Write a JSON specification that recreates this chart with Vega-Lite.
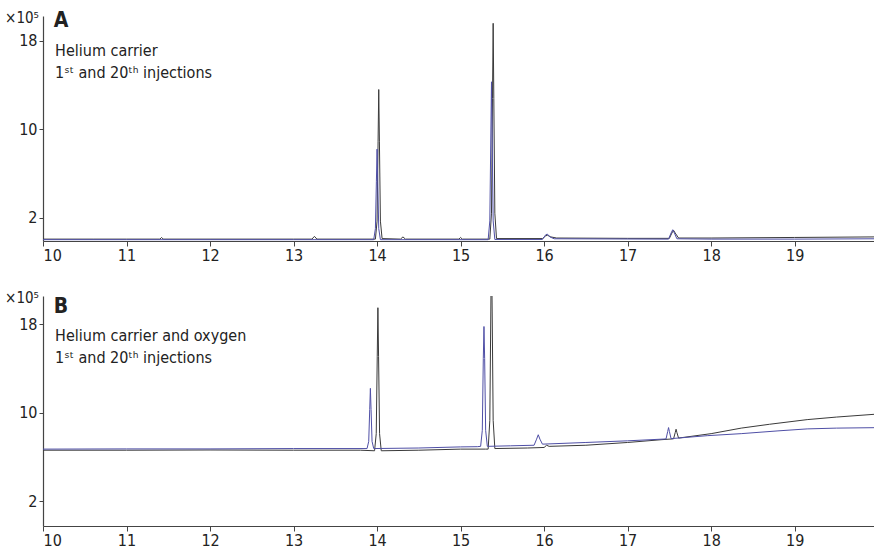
{
  "$schema": "https://vega.github.io/schema/vega-lite/v6.json",
  "padding": {"left": 5, "top": 9, "right": 0, "bottom": 4},
  "spacing": 28,
  "config": {
    "view": {"stroke": null},
    "font": "DejaVu Sans Condensed, Roboto, sans-serif",
    "axis": {
      "labelFont": "DejaVu Sans Condensed, Roboto, sans-serif",
      "labelFontSize": 16,
      "labelColor": "#222222",
      "domainColor": "#444444",
      "tickColor": "#444444",
      "domainWidth": 1.2,
      "grid": false,
      "title": null
    },
    "text": {"font": "DejaVu Sans Condensed, Roboto, sans-serif", "color": "#222222"}
  },
  "datasets": {
    "a": [
      {"t": 10.0, "v": 0.05, "inj": "1st"}, {"t": 10.6, "v": 0.05, "inj": "1st"}, {"t": 11.0, "v": 0.05, "inj": "1st"},
      {"t": 11.4, "v": 0.05, "inj": "1st"}, {"t": 11.42, "v": 0.2, "inj": "1st"}, {"t": 11.44, "v": 0.05, "inj": "1st"},
      {"t": 12.0, "v": 0.05, "inj": "1st"}, {"t": 13.0, "v": 0.05, "inj": "1st"},
      {"t": 13.22, "v": 0.05, "inj": "1st"}, {"t": 13.25, "v": 0.3, "inj": "1st"}, {"t": 13.28, "v": 0.05, "inj": "1st"},
      {"t": 13.98, "v": 0.05, "inj": "1st"}, {"t": 14.0, "v": 1.68, "inj": "1st"}, {"t": 14.012, "v": 8.86, "inj": "1st"},
      {"t": 14.02, "v": 13.6, "inj": "1st"}, {"t": 14.028, "v": 8.86, "inj": "1st"}, {"t": 14.04, "v": 1.68, "inj": "1st"},
      {"t": 14.06, "v": 0.1, "inj": "1st"},
      {"t": 14.28, "v": 0.05, "inj": "1st"}, {"t": 14.31, "v": 0.25, "inj": "1st"}, {"t": 14.34, "v": 0.05, "inj": "1st"},
      {"t": 14.98, "v": 0.05, "inj": "1st"}, {"t": 15.0, "v": 0.2, "inj": "1st"}, {"t": 15.02, "v": 0.05, "inj": "1st"},
      {"t": 15.35, "v": 0.05, "inj": "1st"}, {"t": 15.37, "v": 2.4, "inj": "1st"}, {"t": 15.382, "v": 12.8, "inj": "1st"},
      {"t": 15.39, "v": 19.6, "inj": "1st"}, {"t": 15.398, "v": 12.8, "inj": "1st"}, {"t": 15.41, "v": 2.4, "inj": "1st"},
      {"t": 15.43, "v": 0.1, "inj": "1st"},
      {"t": 15.98, "v": 0.1, "inj": "1st"}, {"t": 16.02, "v": 0.35, "inj": "1st"}, {"t": 16.04, "v": 0.4, "inj": "1st"},
      {"t": 16.08, "v": 0.25, "inj": "1st"}, {"t": 16.15, "v": 0.15, "inj": "1st"},
      {"t": 17.0, "v": 0.12, "inj": "1st"}, {"t": 17.5, "v": 0.12, "inj": "1st"}, {"t": 17.53, "v": 0.6, "inj": "1st"},
      {"t": 17.55, "v": 0.85, "inj": "1st"}, {"t": 17.57, "v": 0.6, "inj": "1st"}, {"t": 17.61, "v": 0.15, "inj": "1st"},
      {"t": 18.0, "v": 0.15, "inj": "1st"}, {"t": 19.0, "v": 0.2, "inj": "1st"}, {"t": 19.95, "v": 0.25, "inj": "1st"},

      {"t": 10.0, "v": 0.0, "inj": "20th"}, {"t": 11.0, "v": 0.0, "inj": "20th"}, {"t": 12.0, "v": 0.0, "inj": "20th"},
      {"t": 13.0, "v": 0.0, "inj": "20th"},
      {"t": 13.96, "v": 0.0, "inj": "20th"}, {"t": 13.98, "v": 1.0, "inj": "20th"}, {"t": 13.992, "v": 5.3, "inj": "20th"},
      {"t": 14.0, "v": 8.2, "inj": "20th"}, {"t": 14.008, "v": 5.3, "inj": "20th"}, {"t": 14.02, "v": 1.0, "inj": "20th"},
      {"t": 14.04, "v": 0.0, "inj": "20th"},
      {"t": 15.33, "v": 0.0, "inj": "20th"}, {"t": 15.35, "v": 1.7, "inj": "20th"}, {"t": 15.362, "v": 9.3, "inj": "20th"},
      {"t": 15.37, "v": 14.3, "inj": "20th"}, {"t": 15.378, "v": 9.3, "inj": "20th"}, {"t": 15.39, "v": 1.7, "inj": "20th"},
      {"t": 15.41, "v": 0.02, "inj": "20th"},
      {"t": 15.98, "v": 0.02, "inj": "20th"}, {"t": 16.02, "v": 0.45, "inj": "20th"}, {"t": 16.04, "v": 0.5, "inj": "20th"},
      {"t": 16.07, "v": 0.25, "inj": "20th"}, {"t": 16.12, "v": 0.08, "inj": "20th"},
      {"t": 17.49, "v": 0.05, "inj": "20th"}, {"t": 17.52, "v": 0.6, "inj": "20th"}, {"t": 17.54, "v": 0.9, "inj": "20th"},
      {"t": 17.56, "v": 0.6, "inj": "20th"}, {"t": 17.59, "v": 0.08, "inj": "20th"},
      {"t": 18.0, "v": 0.05, "inj": "20th"}, {"t": 19.0, "v": 0.05, "inj": "20th"}, {"t": 19.95, "v": 0.08, "inj": "20th"}
    ],
    "b": [
      {"t": 10.0, "v": 6.6, "inj": "1st"}, {"t": 11.0, "v": 6.6, "inj": "1st"}, {"t": 12.0, "v": 6.62, "inj": "1st"},
      {"t": 13.0, "v": 6.6, "inj": "1st"}, {"t": 13.8, "v": 6.6, "inj": "1st"},
      {"t": 13.97, "v": 6.55, "inj": "1st"}, {"t": 13.99, "v": 8.1, "inj": "1st"}, {"t": 14.002, "v": 15.1, "inj": "1st"},
      {"t": 14.01, "v": 19.5, "inj": "1st"}, {"t": 14.018, "v": 15.1, "inj": "1st"}, {"t": 14.03, "v": 8.1, "inj": "1st"},
      {"t": 14.05, "v": 6.55, "inj": "1st"},
      {"t": 14.5, "v": 6.6, "inj": "1st"}, {"t": 15.0, "v": 6.7, "inj": "1st"}, {"t": 15.3, "v": 6.7, "inj": "1st"},
      {"t": 15.33, "v": 6.7, "inj": "1st"}, {"t": 15.35, "v": 9.3, "inj": "1st"}, {"t": 15.362, "v": 19.2, "inj": "1st"},
      {"t": 15.37, "v": 26.0, "inj": "1st"}, {"t": 15.378, "v": 19.2, "inj": "1st"}, {"t": 15.39, "v": 9.3, "inj": "1st"},
      {"t": 15.41, "v": 6.75, "inj": "1st"},
      {"t": 15.8, "v": 6.8, "inj": "1st"}, {"t": 16.0, "v": 6.85, "inj": "1st"}, {"t": 16.03, "v": 7.05, "inj": "1st"},
      {"t": 16.06, "v": 6.95, "inj": "1st"}, {"t": 16.5, "v": 7.05, "inj": "1st"}, {"t": 17.0, "v": 7.3, "inj": "1st"},
      {"t": 17.4, "v": 7.55, "inj": "1st"}, {"t": 17.55, "v": 7.63, "inj": "1st"}, {"t": 17.57, "v": 8.2, "inj": "1st"},
      {"t": 17.58, "v": 8.5, "inj": "1st"}, {"t": 17.59, "v": 8.2, "inj": "1st"}, {"t": 17.61, "v": 7.7, "inj": "1st"},
      {"t": 18.0, "v": 8.1, "inj": "1st"}, {"t": 18.36, "v": 8.6, "inj": "1st"}, {"t": 18.7, "v": 8.95, "inj": "1st"},
      {"t": 19.15, "v": 9.37, "inj": "1st"}, {"t": 19.5, "v": 9.6, "inj": "1st"}, {"t": 19.95, "v": 9.85, "inj": "1st"},

      {"t": 10.0, "v": 6.7, "inj": "20th"}, {"t": 11.0, "v": 6.72, "inj": "20th"}, {"t": 12.0, "v": 6.72, "inj": "20th"},
      {"t": 13.0, "v": 6.75, "inj": "20th"},
      {"t": 13.88, "v": 6.75, "inj": "20th"}, {"t": 13.9, "v": 7.4, "inj": "20th"}, {"t": 13.912, "v": 10.3, "inj": "20th"},
      {"t": 13.92, "v": 12.2, "inj": "20th"}, {"t": 13.928, "v": 10.3, "inj": "20th"}, {"t": 13.94, "v": 7.4, "inj": "20th"},
      {"t": 13.96, "v": 6.75, "inj": "20th"},
      {"t": 14.5, "v": 6.8, "inj": "20th"}, {"t": 15.0, "v": 6.9, "inj": "20th"}, {"t": 15.2, "v": 6.92, "inj": "20th"},
      {"t": 15.24, "v": 6.95, "inj": "20th"}, {"t": 15.26, "v": 8.4, "inj": "20th"}, {"t": 15.272, "v": 14.9, "inj": "20th"},
      {"t": 15.28, "v": 17.8, "inj": "20th"}, {"t": 15.288, "v": 14.9, "inj": "20th"}, {"t": 15.3, "v": 8.4, "inj": "20th"},
      {"t": 15.32, "v": 6.95, "inj": "20th"},
      {"t": 15.6, "v": 7.0, "inj": "20th"}, {"t": 15.88, "v": 7.05, "inj": "20th"}, {"t": 15.91, "v": 7.6, "inj": "20th"},
      {"t": 15.93, "v": 8.0, "inj": "20th"}, {"t": 15.95, "v": 7.6, "inj": "20th"}, {"t": 15.98, "v": 7.15, "inj": "20th"},
      {"t": 16.5, "v": 7.3, "inj": "20th"}, {"t": 17.0, "v": 7.45, "inj": "20th"}, {"t": 17.46, "v": 7.62, "inj": "20th"},
      {"t": 17.48, "v": 8.3, "inj": "20th"}, {"t": 17.49, "v": 8.65, "inj": "20th"}, {"t": 17.5, "v": 8.3, "inj": "20th"},
      {"t": 17.52, "v": 7.65, "inj": "20th"},
      {"t": 17.96, "v": 7.92, "inj": "20th"}, {"t": 18.36, "v": 8.1, "inj": "20th"}, {"t": 18.8, "v": 8.35, "inj": "20th"},
      {"t": 19.15, "v": 8.53, "inj": "20th"}, {"t": 19.5, "v": 8.6, "inj": "20th"}, {"t": 19.95, "v": 8.64, "inj": "20th"}
    ]
  },
  "vconcat": [
    {
      "width": 831,
      "height": 225,
      "layer": [
        {
          "data": {"name": "a"},
          "mark": {"type": "line", "strokeWidth": 1, "clip": true},
          "encoding": {
            "x": {"field": "t", "type": "quantitative", "scale": {"domain": [10, 19.95], "nice": false, "zero": false},
                  "axis": {"values": [10, 11, 12, 13, 14, 15, 16, 17, 18, 19], "format": "d", "tickSize": 5, "labelPadding": 1}},
            "y": {"field": "v", "type": "quantitative", "scale": {"domain": [-0.12, 20.26], "nice": false, "zero": false},
                  "axis": {"values": [2, 10, 18], "format": "d", "tickSize": 4, "labelPadding": 2}},
            "color": {"field": "inj", "type": "nominal", "scale": {"domain": ["1st", "20th"], "range": ["#3a3a3a", "#4f4fa6"]}, "legend": null}
          }
        },
        {
          "data": {"values": [{}]},
          "mark": {"type": "text", "text": "×10⁵", "fontSize": 15, "align": "right", "baseline": "middle", "dx": -4, "dy": 2},
          "encoding": {"x": {"datum": 10}, "y": {"datum": 20.26}}
        },
        {
          "data": {"values": [{}]},
          "mark": {"type": "text", "text": "A", "fontSize": 21, "fontWeight": "bold", "align": "left", "baseline": "alphabetic"},
          "encoding": {"x": {"datum": 10.13}, "y": {"datum": 19.3}}
        },
        {
          "data": {"values": [{}]},
          "mark": {"type": "text", "text": "Helium carrier", "fontSize": 16, "align": "left", "baseline": "alphabetic"},
          "encoding": {"x": {"datum": 10.145}, "y": {"datum": 16.6}}
        },
        {
          "data": {"values": [{}]},
          "mark": {"type": "text", "text": "1ˢᵗ and 20ᵗʰ injections", "fontSize": 16, "align": "left", "baseline": "alphabetic"},
          "encoding": {"x": {"datum": 10.145}, "y": {"datum": 14.6}}
        }
      ]
    },
    {
      "width": 831,
      "height": 230,
      "layer": [
        {
          "data": {"name": "b"},
          "mark": {"type": "line", "strokeWidth": 1, "clip": true},
          "encoding": {
            "x": {"field": "t", "type": "quantitative", "scale": {"domain": [10, 19.95], "nice": false, "zero": false},
                  "axis": {"values": [10, 11, 12, 13, 14, 15, 16, 17, 18, 19], "format": "d", "tickSize": 5, "labelPadding": 1}},
            "y": {"field": "v", "type": "quantitative", "scale": {"domain": [-0.26, 20.56], "nice": false, "zero": false},
                  "axis": {"values": [2, 10, 18], "format": "d", "tickSize": 4, "labelPadding": 2}},
            "color": {"field": "inj", "type": "nominal", "scale": {"domain": ["1st", "20th"], "range": ["#3a3a3a", "#4f4fa6"]}, "legend": null}
          }
        },
        {
          "data": {"values": [{}]},
          "mark": {"type": "text", "text": "×10⁵", "fontSize": 15, "align": "right", "baseline": "middle", "dx": -4, "dy": 2},
          "encoding": {"x": {"datum": 10}, "y": {"datum": 20.56}}
        },
        {
          "data": {"values": [{}]},
          "mark": {"type": "text", "text": "B", "fontSize": 21, "fontWeight": "bold", "align": "left", "baseline": "alphabetic"},
          "encoding": {"x": {"datum": 10.13}, "y": {"datum": 19.0}}
        },
        {
          "data": {"values": [{}]},
          "mark": {"type": "text", "text": "Helium carrier and oxygen", "fontSize": 16, "align": "left", "baseline": "alphabetic"},
          "encoding": {"x": {"datum": 10.145}, "y": {"datum": 16.5}}
        },
        {
          "data": {"values": [{}]},
          "mark": {"type": "text", "text": "1ˢᵗ and 20ᵗʰ injections", "fontSize": 16, "align": "left", "baseline": "alphabetic"},
          "encoding": {"x": {"datum": 10.145}, "y": {"datum": 14.5}}
        }
      ]
    }
  ]
}
